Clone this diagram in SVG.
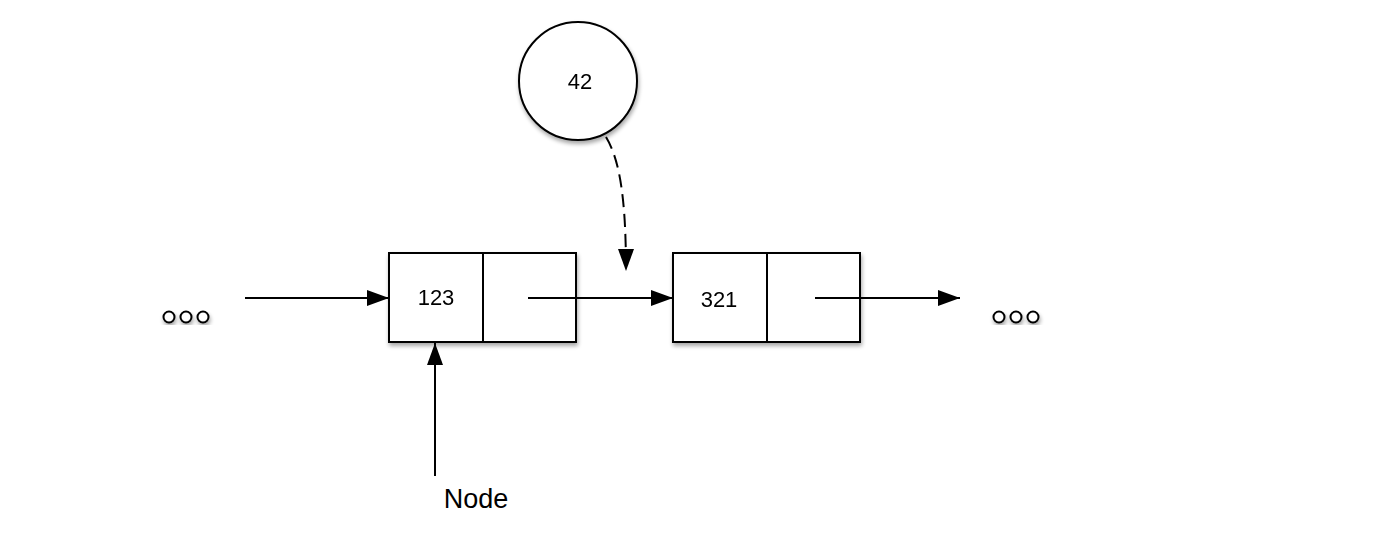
<svg xmlns="http://www.w3.org/2000/svg" width="1400" height="560" viewBox="0 0 1400 560">
<defs>
<filter id="sh" x="-20%" y="-20%" width="140%" height="140%">
<feGaussianBlur in="SourceAlpha" stdDeviation="2"/>
<feOffset dx="1" dy="3" result="b"/>
<feComponentTransfer><feFuncA type="linear" slope="0.35"/></feComponentTransfer>
<feMerge><feMergeNode/><feMergeNode in="SourceGraphic"/></feMerge>
</filter>
<marker id="ah" viewBox="0 0 22 16" refX="22" refY="8" markerWidth="22" markerHeight="16" markerUnits="userSpaceOnUse" orient="auto">
<path d="M0,0 L22,8 L0,16 Z" fill="#000"/>
</marker>
</defs>
<style>
.box{fill:#fff;stroke:#000;stroke-width:2}
.ln{fill:none;stroke:#000;stroke-width:2}
.t{font-family:"Liberation Sans",Arial,sans-serif;font-size:22px;fill:#000;text-anchor:middle}
.dot{fill:#fff;stroke:#000;stroke-width:2}
</style>
<rect width="1400" height="560" fill="#fff"/>
<g id="dots-left" filter="url(#sh)">
<circle class="dot" cx="169" cy="317" r="5.5"/>
<circle class="dot" cx="186" cy="317" r="5.5"/>
<circle class="dot" cx="203" cy="317" r="5.5"/>
</g>
<g id="node-123" filter="url(#sh)">
<rect class="box" x="389" y="253" width="187" height="89"/>
<line class="ln" x1="483" y1="253" x2="483" y2="342"/>
<text class="t" x="436" y="305">123</text>
</g>
<g id="node-321" filter="url(#sh)">
<rect class="box" x="673" y="253" width="187" height="89"/>
<line class="ln" x1="767" y1="253" x2="767" y2="342"/>
<text class="t" x="719" y="307">321</text>
</g>
<g id="node-42" filter="url(#sh)">
<circle class="box" cx="578" cy="81" r="59"/>
<text class="t" x="580" y="89">42</text>
</g>
<g id="dots-right" filter="url(#sh)">
<circle class="dot" cx="999" cy="317" r="5.5"/>
<circle class="dot" cx="1016" cy="317" r="5.5"/>
<circle class="dot" cx="1033" cy="317" r="5.5"/>
</g>
<g id="label-node">
<text class="t" x="476" y="508" style="font-size:27px">Node</text>
</g>
<g id="connectors">
<line class="ln" x1="245" y1="298" x2="389" y2="298" marker-end="url(#ah)"/>
<line class="ln" x1="528" y1="298" x2="673" y2="298" marker-end="url(#ah)"/>
<line class="ln" x1="815" y1="298" x2="960" y2="298" marker-end="url(#ah)"/>
<line class="ln" x1="435" y1="476" x2="435" y2="343" marker-end="url(#ah)"/>
<path class="ln" d="M606,137 C620,160 626,200 626,271" stroke-dasharray="13,7" marker-end="url(#ah)"/>
</g>
</svg>
